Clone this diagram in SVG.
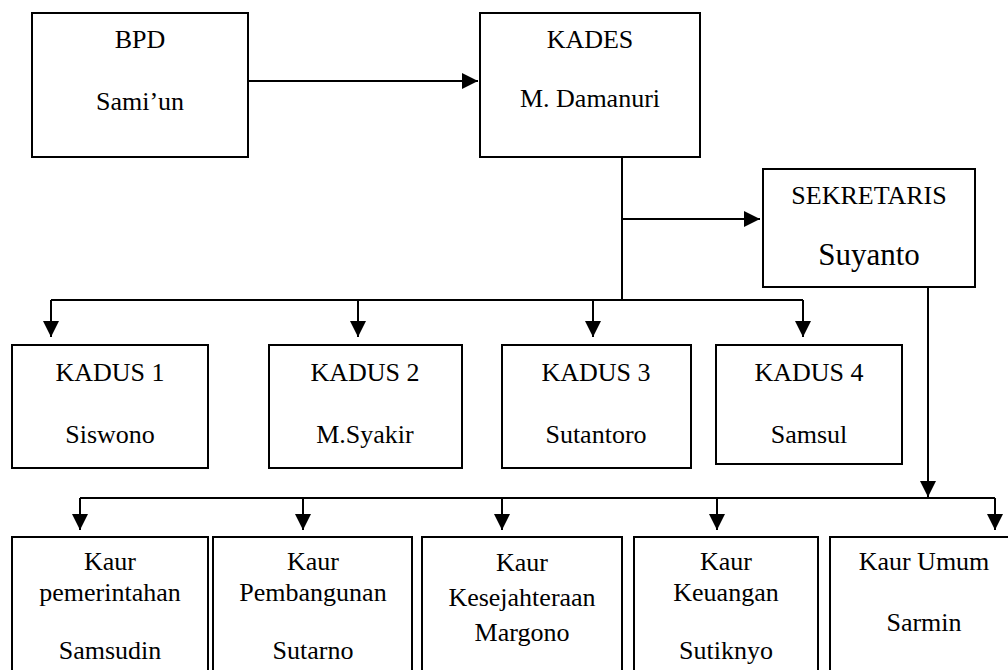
<svg xmlns="http://www.w3.org/2000/svg" width="1008" height="670" viewBox="0 0 1008 670">
<defs>
<marker id="arr" markerUnits="userSpaceOnUse" markerWidth="16" markerHeight="16" viewBox="0 0 16 16" refX="16" refY="8" orient="auto">
<path d="M0,0 L16,8 L0,16 Z" fill="#000"/>
</marker>
<style>
.box{fill:#fff;stroke:#000;stroke-width:2}
.c{fill:none;stroke:#000;stroke-width:2}
</style>
</defs>
<rect width="1008" height="670" fill="#fff"/>
<g id="connectors">
<path class="c" d="M248,81 H478" marker-end="url(#arr)"/>
<path class="c" d="M622,157 V300"/>
<path class="c" d="M622,219 H760" marker-end="url(#arr)"/>
<path class="c" d="M51,300 H803"/>
<path class="c" d="M51,300 V337" marker-end="url(#arr)"/>
<path class="c" d="M358,300 V337" marker-end="url(#arr)"/>
<path class="c" d="M593,300 V337" marker-end="url(#arr)"/>
<path class="c" d="M803,300 V337" marker-end="url(#arr)"/>
<path class="c" d="M928,287 V497" marker-end="url(#arr)"/>
<path class="c" d="M80,498 H995"/>
<path class="c" d="M80,498 V530" marker-end="url(#arr)"/>
<path class="c" d="M303,498 V530" marker-end="url(#arr)"/>
<path class="c" d="M502,498 V530" marker-end="url(#arr)"/>
<path class="c" d="M717,498 V530" marker-end="url(#arr)"/>
<path class="c" d="M995,498 V530" marker-end="url(#arr)"/>
</g>
<g font-family="'Liberation Serif', 'DejaVu Serif', serif" font-size="26" text-anchor="middle" fill="#000">
<g id="bpd">
<rect class="box" x="32" y="13" width="216" height="144"/>
<text x="140" y="48">BPD</text>
<text x="140" y="110">Sami’un</text>
</g>
<g id="kades">
<rect class="box" x="480" y="13" width="220" height="144"/>
<text x="590" y="48">KADES</text>
<text x="590" y="107">M. Damanuri</text>
</g>
<g id="sekretaris">
<rect class="box" x="763" y="169" width="212" height="118"/>
<text x="869" y="204">SEKRETARIS</text>
<text x="869" y="265" font-size="31">Suyanto</text>
</g>
<g id="kadus1">
<rect class="box" x="12" y="345" width="196" height="123"/>
<text x="110" y="381">KADUS 1</text>
<text x="110" y="443">Siswono</text>
</g>
<g id="kadus2">
<rect class="box" x="269" y="345" width="193" height="123"/>
<text x="365" y="381">KADUS 2</text>
<text x="365" y="443">M.Syakir</text>
</g>
<g id="kadus3">
<rect class="box" x="502" y="345" width="189" height="123"/>
<text x="596" y="381">KADUS 3</text>
<text x="596" y="443">Sutantoro</text>
</g>
<g id="kadus4">
<rect class="box" x="716" y="345" width="186" height="119"/>
<text x="809" y="381">KADUS 4</text>
<text x="809" y="443">Samsul</text>
</g>
<g id="kaur-pemerintahan">
<rect class="box" x="12" y="537" width="196" height="140"/>
<text x="110" y="570">Kaur</text>
<text x="110" y="601">pemerintahan</text>
<text x="110" y="659">Samsudin</text>
</g>
<g id="kaur-pembangunan">
<rect class="box" x="213" y="537" width="199" height="140"/>
<text x="313" y="570">Kaur</text>
<text x="313" y="601">Pembangunan</text>
<text x="313" y="659">Sutarno</text>
</g>
<g id="kaur-kesejahteraan">
<rect class="box" x="422" y="537" width="200" height="140"/>
<text x="522" y="571">Kaur</text>
<text x="522" y="606">Kesejahteraan</text>
<text x="522" y="641">Margono</text>
</g>
<g id="kaur-keuangan">
<rect class="box" x="634" y="537" width="184" height="140"/>
<text x="726" y="570">Kaur</text>
<text x="726" y="601">Keuangan</text>
<text x="726" y="659">Sutiknyo</text>
</g>
<g id="kaur-umum">
<rect class="box" x="830" y="537" width="190" height="140"/>
<text x="924" y="570">Kaur Umum</text>
<text x="924" y="631">Sarmin</text>
</g>
</g>
</svg>
